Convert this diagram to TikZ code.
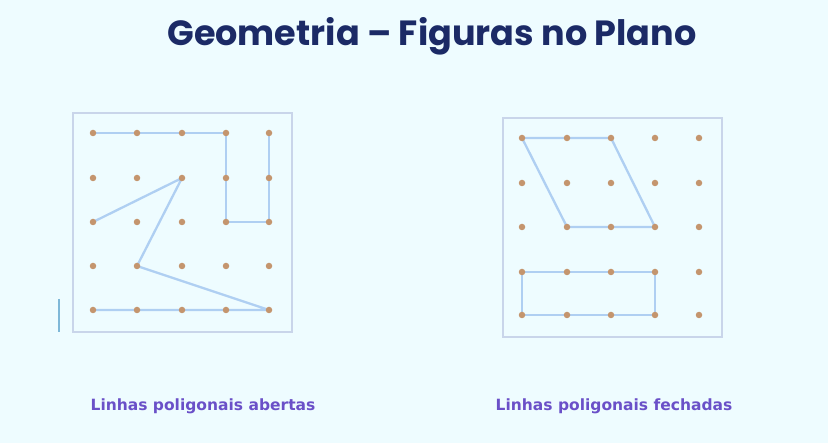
\documentclass[tikz,border=0pt]{standalone}
\usepackage{fontspec}
\setmainfont{DejaVu Sans}
\newfontfamily\titlefont{Poppins}
\definecolor{bgc}{HTML}{EEFCFF}
\definecolor{titlec}{HTML}{1B2A66}
\definecolor{labelc}{HTML}{6A50C8}
\definecolor{dotc}{HTML}{C4956E}
\definecolor{linec}{HTML}{AFCFF2}
\definecolor{boxc}{HTML}{C9D5EA}
\definecolor{tickc}{HTML}{7FB8D8}
\tikzset{
  dotn/.style={circle,fill=dotc,inner sep=0pt,minimum size=6.5pt},
  seg/.style={draw=linec,line width=2.3pt,line join=round},
  framebox/.style={draw=boxc,line width=1.4pt},
  lbl/.style={text=labelc,font=\bfseries\fontsize{15.5}{17}\selectfont,anchor=center}
}
\begin{document}
\begin{tikzpicture}[x=1pt,y=-1pt]
\fill[bgc] (0,0) rectangle (828,443);
\useasboundingbox (0,0) rectangle (828,443);
\node[text=titlec,font=\titlefont\bfseries\fontsize{35}{40}\selectfont] (title) at (432,36) {Geometria – Figuras no Plano};
% left frame
\draw[framebox] (73,113) rectangle (292,332);
\draw[tickc,line width=1.8pt] (59,299) -- (59,332);
% right frame
\draw[framebox] (503,118) rectangle (722,337);
% grids
\foreach \i/\x in {0/93,1/137,2/182,3/226,4/269}{
  \foreach \j/\y in {0/133,1/178,2/222,3/266,4/310}{
    \coordinate (L\i\j) at (\x,\y);
  }
}
\foreach \i/\x in {0/522,1/567,2/611,3/655,4/699}{
  \foreach \j/\y in {0/138,1/183,2/227,3/272,4/315}{
    \coordinate (R\i\j) at (\x,\y);
  }
}
\path[seg] (L00) -- (L10) -- (L20) -- (L30) -- (L32) -- (L42) -- (L40);
\path[seg] (L02) -- (L21) -- (L13) -- (L44) -- (L34) -- (L24) -- (L14) -- (L04);
\path[seg] (R00) -- (R10) -- (R20) -- (R32) -- (R22) -- (R12) -- cycle;
\path[seg] (R03) -- (R13) -- (R23) -- (R33) -- (R34) -- (R24) -- (R14) -- (R04) -- cycle;
\foreach \i in {0,...,4}{
  \foreach \j in {0,...,4}{
    \node[dotn] (dL\i\j) at (L\i\j) {};
    \node[dotn] (dR\i\j) at (R\i\j) {};
  }
}
\node[lbl] (labA) at (203,406) {Linhas poligonais abertas};
\node[lbl] (labB) at (614,406) {Linhas poligonais fechadas};
\end{tikzpicture}
\end{document}
